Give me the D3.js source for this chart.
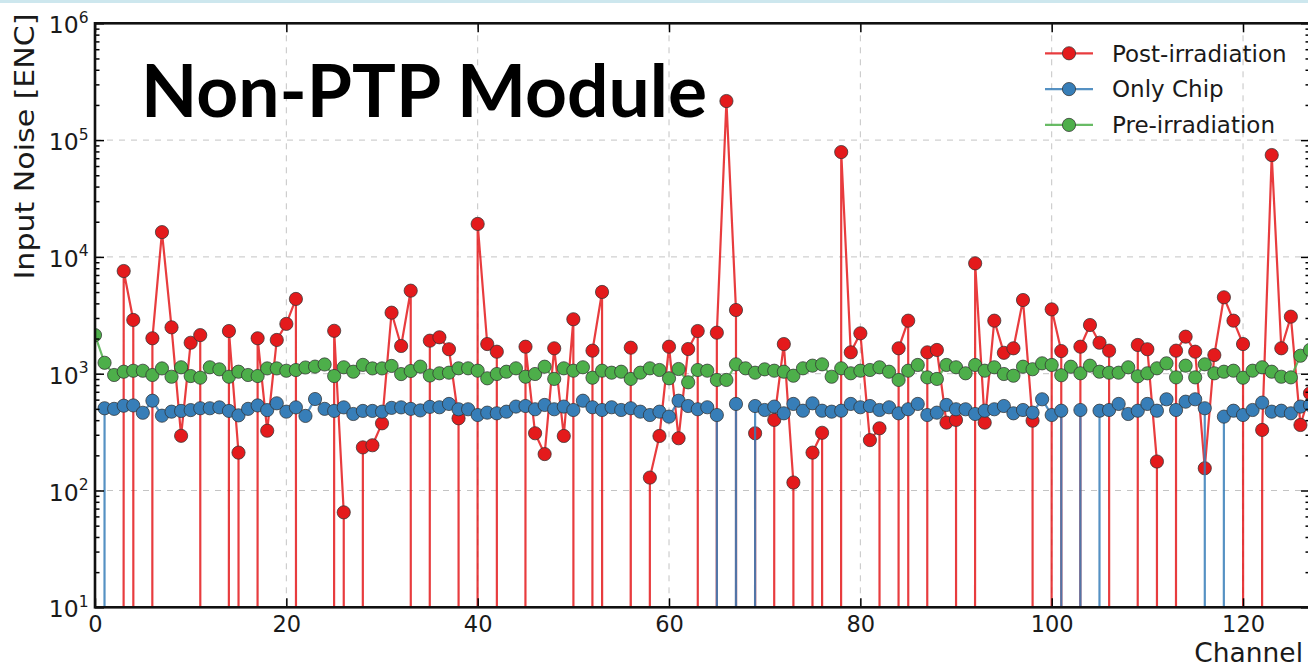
<!DOCTYPE html>
<meta charset="utf-8">
<script src="https://d3js.org/d3.v7.min.js"></script>
<style>
    body { margin: 0; background: #fff; }
    svg { display: block; }
    text { font-family: "DejaVu Sans", sans-serif; fill: #1a1a1a; }
</style>
<div id="vis"></div>
<script>
    // input noise per channel, 0 = dead channel (drops off the log axis)
    var postIrr = [0, 0, 0, 7570, 2885, 0, 2010, 16300, 2495, 294,
        1840, 2140, 0, 0, 2320, 211, 0, 2010, 325, 1945,
        2670, 4365, 0, 0, 0, 2330, 65, 0, 234, 244,
        376, 3330, 1727, 5140, 0, 1918, 2050, 1620, 415, 0,
        19150, 1795, 1543, 0, 0, 1703, 309, 205, 1650, 293,
        2925, 0, 1575, 5010, 0, 0, 1670, 0, 129, 293,
        1703, 280, 1627, 2320, 0, 2245, 216000, 3510, 0, 309,
        0, 402, 1795, 117, 0, 211, 312, 0, 79000, 1524,
        2217, 270, 341, 0, 1650, 2845, 0, 1524, 1597, 381,
        402, 0, 8810, 381, 2845, 1510, 1650, 4275, 396, 0,
        3555, 1563, 0, 1703, 2612, 1840, 1575, 0, 0, 1762,
        1620, 177, 0, 1575, 2075, 1543, 155, 1445, 4510, 2845,
        1795, 0, 330, 74500, 1650, 3080, 364, 680];

    var onlyChip = [0, 506, 500, 532, 535, 463, 587, 437, 473, 480,
        488, 506, 506, 515, 480, 440, 500, 535, 488, 558,
        473, 515, 435, 607, 500, 480, 515, 452, 480, 480,
        473, 510, 515, 500, 485, 520, 516, 551, 496, 496,
        443, 464, 458, 473, 523, 529, 496, 540, 496, 523,
        489, 587, 516, 489, 516, 489, 506, 473, 443, 473,
        429, 587, 529, 496, 516, 443, 0, 551, 0, 529,
        489, 523, 458, 551, 482, 558, 482, 473, 482, 551,
        516, 529, 489, 516, 458, 496, 551, 443, 464, 540,
        496, 496, 452, 482, 496, 529, 458, 489, 464, 604,
        443, 482, 0, 489, 0, 482, 489, 551, 452, 482,
        551, 482, 604, 489, 576, 604, 506, 0, 429, 482,
        443, 489, 565, 473, 482, 458, 523, 540];

    var preIrr = [2140, 1240, 975, 1040, 1060, 1060, 975, 1110, 942, 1135,
        955, 925, 1135, 1090, 942, 1040, 975, 955, 1110, 1110,
        1060, 1075, 1130, 1150, 1200, 955, 1135, 1040, 1190, 1110,
        1110, 1165, 993, 1055, 1150, 965, 1008, 1020, 1112, 1112,
        1061, 913, 994, 1040, 1112, 942, 994, 1148, 902, 1112,
        1061, 1135, 924, 1061, 1020, 1040, 902, 1020, 1112, 1076,
        913, 1097, 844, 1076, 1061, 884, 884, 1203, 1112, 1020,
        1090, 1061, 1040, 961, 1112, 1172, 1203, 942, 1112, 1008,
        1061, 1076, 1135, 1040, 884, 1061, 1188, 930, 902, 1188,
        1135, 1008, 1188, 1061, 1135, 994, 961, 1148, 1092, 1227,
        1188, 970, 1148, 1008, 1172, 1040, 1020, 1020, 1135, 950,
        1008, 1112, 1227, 930, 1172, 930, 1203, 1008, 1040, 1061,
        924, 1061, 1135, 1040, 942, 930, 1425, 1600];

    var seriesNames = ["Post-irradiation", "Only Chip", "Pre-irradiation"];
    var seriesColors = ["#e41a1c", "#377eb8", "#4daf4a"];
    var xTicks = [0, 20, 40, 60, 80, 100, 120];
    var yDecades = [1e1, 1e2, 1e3, 1e4, 1e5, 1e6];
    var yExps = ["1", "2", "3", "4", "5", "6"];

    var W = 1308, H = 667;
    var ax = { lft: 95, rgt: 1310, top: 23.3, btm: 607.3 };

    var svg = d3.select("#vis").append("svg")
        .attr("width", W)
        .attr("height", H);

    // slide remnant at the very top
    svg.append("rect")
        .attr("x", 0).attr("y", 0)
        .attr("width", W).attr("height", 3)
        .attr("fill", "#cde7ee");

    // scales
    var x = d3.scaleLinear().domain([0, 127]).range([ax.lft, ax.rgt]);
    var y = d3.scaleLog().domain([10, 1e6]).range([ax.btm, ax.top]);
    var FLOOR = 1e-300; // like matplotlib's clip for non-positive values on log axes

    var minors = [];
    yDecades.slice(0, -1).forEach(function (d) {
        for (var m = 2; m < 10; m++) minors.push(d * m);
    });

    svg.append("defs").append("clipPath").attr("id", "plotclip")
        .append("rect")
        .attr("x", ax.lft).attr("y", ax.top)
        .attr("width", ax.rgt - ax.lft).attr("height", ax.btm - ax.top);

    // grid
    var grid = svg.append("g")
        .attr("stroke", "#c4c4c4")
        .attr("stroke-width", 1)
        .attr("stroke-dasharray", "6,6");
    grid.selectAll(".gx").data(xTicks.slice(1)).enter().append("line")
        .attr("x1", function (d) { return x(d); })
        .attr("x2", function (d) { return x(d); })
        .attr("y1", ax.top).attr("y2", ax.btm);
    grid.selectAll(".gy").data(yDecades.slice(1, -1)).enter().append("line")
        .attr("y1", function (d) { return y(d); })
        .attr("y2", function (d) { return y(d); })
        .attr("x1", ax.lft).attr("x2", ax.rgt);

    // series
    var plot = svg.append("g").attr("clip-path", "url(#plotclip)");
    var allSeries = [postIrr, onlyChip, preIrr];
    var line = d3.line()
        .x(function (d, i) { return x(i); })
        .y(function (d) { return y(d > 0 ? d : FLOOR); });

    allSeries.forEach(function (vals, s) {
        var g = plot.append("g");
        g.append("path")
            .datum(vals)
            .attr("d", line)
            .attr("fill", "none")
            .attr("stroke", seriesColors[s])
            .attr("stroke-width", 2.2)
            .attr("stroke-opacity", 0.85);
        g.selectAll("circle")
            .data(vals.map(function (v, i) { return { i: i, v: v }; })
                .filter(function (d) { return d.v > 0; }))
            .enter().append("circle")
            .attr("cx", function (d) { return x(d.i); })
            .attr("cy", function (d) { return y(d.v); })
            .attr("r", 6.6)
            .attr("fill", seriesColors[s])
            .attr("stroke", "#333")
            .attr("stroke-opacity", 0.75)
            .attr("stroke-width", 1);
    });

    // axes (ticks inward)
    function styleTicks(g) {
        g.select(".domain").remove();
        g.selectAll(".tick line").attr("stroke", "#000").attr("stroke-width", 1.5);
    }
    var gb = svg.append("g")
        .attr("transform", "translate(0," + ax.btm + ")")
        .call(d3.axisBottom(x).tickValues(xTicks).tickSizeInner(-9).tickSizeOuter(0).tickPadding(9))
        .call(styleTicks);
    gb.selectAll(".tick text")
        .attr("y", 24.7).attr("dy", null)
        .attr("font-size", 22.5)
        .attr("font-family", "DejaVu Sans")
        .attr("fill", "#1a1a1a");
    svg.append("g")
        .attr("transform", "translate(0," + ax.top + ")")
        .call(d3.axisTop(x).tickValues(xTicks).tickSizeInner(-9).tickSizeOuter(0).tickFormat(""))
        .call(styleTicks);

    svg.append("g")
        .attr("transform", "translate(" + ax.lft + ",0)")
        .call(d3.axisLeft(y).tickValues(yDecades).tickSizeInner(-9).tickSizeOuter(0).tickFormat(""))
        .call(styleTicks);
    svg.append("g")
        .attr("transform", "translate(" + ax.lft + ",0)")
        .call(d3.axisLeft(y).tickValues(minors).tickSizeInner(-4.5).tickSizeOuter(0).tickFormat(""))
        .call(styleTicks);
    svg.append("g")
        .attr("transform", "translate(" + ax.rgt + ",0)")
        .call(d3.axisRight(y).tickValues(yDecades).tickSizeInner(-9).tickSizeOuter(0).tickFormat(""))
        .call(styleTicks);
    svg.append("g")
        .attr("transform", "translate(" + ax.rgt + ",0)")
        .call(d3.axisRight(y).tickValues(minors).tickSizeInner(-4.5).tickSizeOuter(0).tickFormat(""))
        .call(styleTicks);

    // y tick labels as 10^n
    var ylab = svg.append("g");
    yDecades.forEach(function (d, i) {
        var t = ylab.append("text")
            .attr("x", 88.5)
            .attr("y", y(d) + 10)
            .attr("text-anchor", "end")
            .attr("font-size", 23.5);
        t.append("tspan").text("10");
        t.append("tspan").attr("dy", -10.6).attr("font-size", 15.5).text(yExps[i]);
    });

    // spines
    svg.append("rect")
        .attr("x", ax.lft).attr("y", ax.top)
        .attr("width", ax.rgt - ax.lft).attr("height", ax.btm - ax.top)
        .attr("fill", "none")
        .attr("stroke", "#111")
        .attr("stroke-width", 2.6);

    // axis labels
    svg.append("text")
        .attr("transform", "translate(33.5,146.5) rotate(-90)")
        .attr("text-anchor", "middle")
        .attr("font-size", 27)
        .attr("textLength", 266)
        .attr("lengthAdjust", "spacingAndGlyphs")
        .text("Input Noise [ENC]");
    svg.append("text")
        .attr("x", 1303)
        .attr("y", 662)
        .attr("text-anchor", "end")
        .attr("font-size", 26.5)
        .text("Channel");

    // legend
    var leg = svg.append("g");
    seriesNames.forEach(function (name, i) {
        var ly = 53.3 + i * 35.8;
        leg.append("line")
            .attr("x1", 1045).attr("x2", 1093)
            .attr("y1", ly).attr("y2", ly)
            .attr("stroke", seriesColors[i])
            .attr("stroke-width", 2.2)
            .attr("stroke-opacity", 0.85);
        leg.append("circle")
            .attr("cx", 1069).attr("cy", ly).attr("r", 6.6)
            .attr("fill", seriesColors[i])
            .attr("stroke", "#333").attr("stroke-opacity", 0.75);
        leg.append("text")
            .attr("x", 1112).attr("y", ly)
            .attr("dy", "0.36em")
            .attr("font-size", 23)
            .text(name);
    });

    // big slide caption
    svg.append("text")
        .attr("x", 141)
        .attr("y", 117)
        .attr("font-weight", 700)
        .attr("font-size", 72)
        .attr("textLength", 566)
        .attr("lengthAdjust", "spacingAndGlyphs")
        .style("font-family", "Lato, sans-serif")
        .style("fill", "#000")
        .text("Non-PTP Module");
</script>
